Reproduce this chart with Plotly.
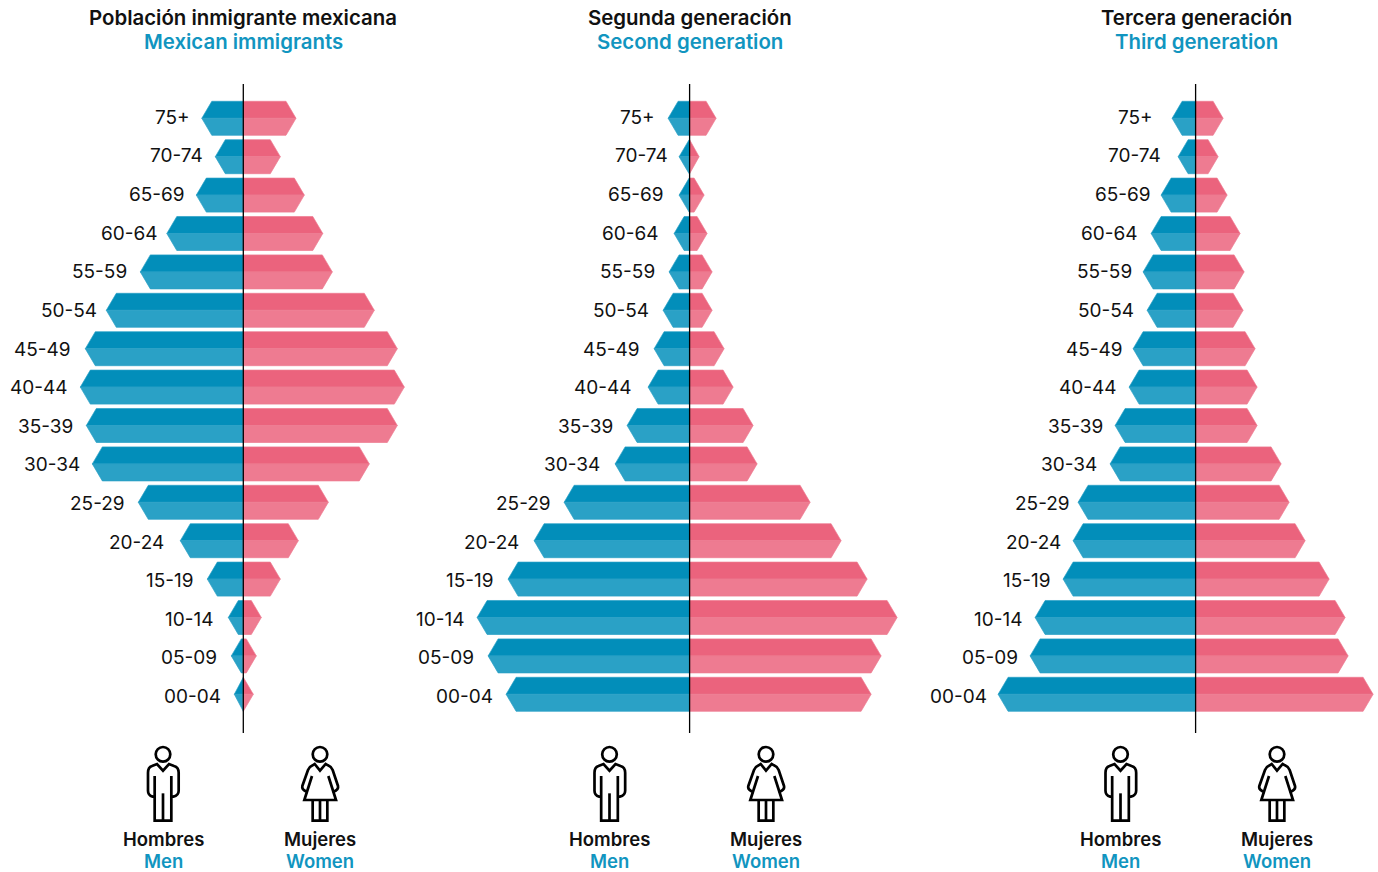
import plotly.graph_objects as go

# Age groups, top to bottom
age_groups = ["75+", "70-74", "65-69", "60-64", "55-59", "50-54", "45-49", "40-44",
              "35-39", "30-34", "25-29", "20-24", "15-19", "10-14", "05-09", "00-04"]

# Values (relative units, same scale in each panel)
immigrants_men = [41.5, 28, 47, 76.5, 103, 137, 158, 163, 157, 151, 105, 63, 36, 15, 12, 9]
immigrants_women = [52.7, 37, 61, 79.5, 89, 131, 154, 161, 154, 126, 85, 55, 37, 18, 13, 10]
second_men = [21.5, 10.5, 10.5, 15.5, 20.5, 26.5, 35.5, 41.5, 62.5, 74.5, 125.5, 155.5, 181.5, 212.5, 201.5, 183.5]
second_women = [26.5, 9.5, 14.5, 17.5, 22.5, 22.5, 34.5, 43.5, 63.5, 67.5, 120.5, 151.5, 177.5, 207.5, 191.5, 181.5]
third_men = [23.5, 17.5, 34.5, 44.5, 52.5, 48.5, 62.5, 66.5, 80.5, 85.5, 117.5, 122.5, 132.5, 160.5, 165.5, 197.5]
third_women = [27.5, 22.5, 31.5, 44.5, 48.5, 47.5, 59.5, 61.5, 61.5, 85.5, 93.5, 109.5, 133.5, 149.5, 152.5, 177.5]

titles_es = ["Población inmigrante mexicana", "Segunda generación", "Tercera generación"]
titles_en = ["Mexican immigrants", "Second generation", "Third generation"]
men_es, men_en, women_es, women_en = "Hombres", "Men", "Mujeres", "Women"

W, H = 1378, 872
FONT = "Inter"
BLUE_D, BLUE_L = "#028EBA", "#2AA1C6"
PINK_D, PINK_L = "#EB637D", "#EE7B91"
TEXT_BLUE = "#1195C0"
HALF = 0.443      # half bar height, in rows
TIP = 10          # length of the pointed end, in value units

# Hand placement of the age labels relative to the default gap from the bar tip (pixels)
label_nudge_1 = [1, 1, 2, 4, 0, 4, -1, 1, 0, 1, 0, -3, 0, -2, -1, 0]
label_nudge_2 = [0, 2, -2, -2, -1, -1, -1, -3, -1, -2, 0, -2, -1, 0, -1, 0]
label_nudge_3 = [-6, -4, 3, 0, 2, 0, 3, 1, 1, 0, 5, 1, 1, 0, 1, 2]

panels = [
    dict(men=immigrants_men, women=immigrants_women, nudge=label_nudge_1, c=243.3, win=(0, 440),
         title_x=243, man=163, woman=320),
    dict(men=second_men, women=second_women, nudge=label_nudge_2, c=689.6, win=(445, 925),
         title_x=689.5, man=609.5, woman=766),
    dict(men=third_men, women=third_women, nudge=label_nudge_3, c=1195.6, win=(930, 1378),
         title_x=1196.5, man=1120.5, woman=1277),
]
TOP_PX, BOT_PX, ROW0_PX, ROW_PX = 84, 733, 118.3, 38.4
y_range = [(BOT_PX - ROW0_PX) / ROW_PX, (TOP_PX - ROW0_PX) / ROW_PX]


def half_polys(values, sign, upper):
    xs, ys = [], []
    for i, v in enumerate(values):
        edge = i - HALF if upper else i + HALF
        xs += [0, sign * max(v - TIP, 0), sign * v, 0, 0, None]
        ys += [edge, edge, i, i, edge, None]
    return xs, ys


fig = go.Figure()
layout = dict(
    width=W, height=H, margin=dict(l=0, r=0, t=0, b=0), showlegend=False,
    paper_bgcolor="white", plot_bgcolor="rgba(0,0,0,0)",
    xaxis4=dict(domain=[0, 1], range=[0, W], visible=False, anchor="y4"),
    yaxis4=dict(domain=[0, 1], range=[H, 0], visible=False, anchor="x4"),
)
annotations, shapes = [], []


def text(x, y, s, color, size, weight, xref="x4", yref="y4", anchor="center", **kw):
    annotations.append(dict(x=x, y=y, xref=xref, yref=yref, text=s, showarrow=False,
                            xanchor=anchor, yanchor="middle",
                            font=dict(family=FONT, size=size, color=color, weight=weight), **kw))


def stroke(path):
    shapes.append(dict(type="path", path=path, xref="x4", yref="y4",
                       line=dict(color="black", width=2.7), layer="above"))


def to_path(cx, cmds, head_x):
    out = []
    for c in cmds:
        letter, pts = c[0], c[1:]
        coords = " ".join(f"{cx + (X - head_x) / 3:.2f},{740 + Y / 3:.2f}" for X, Y in pts)
        out.append(f"{letter} {coords}")
    return " ".join(out)


def head(cx):
    shapes.append(dict(type="circle", xref="x4", yref="y4", x0=cx - 7.3, x1=cx + 7.3,
                       y0=747, y1=761.6, line=dict(color="black", width=2.7), layer="above"))


def man_icon(cx):
    head(cx)
    hx = 83
    stroke(to_path(cx, [("M", (58, 108)), ("L", (58, 242)), ("L", (108, 242)), ("L", (108, 108))], hx))
    stroke(to_path(cx, [("M", (83, 160)), ("L", (83, 242))], hx))
    stroke(to_path(cx, [("M", (58, 170)), ("L", (52, 170)), ("Q", (38, 166), (38, 152)), ("L", (38, 98)),
                        ("Q", (38, 82), (50, 78)), ("L", (65, 72)), ("L", (83, 92)), ("L", (101, 72)),
                        ("L", (116, 78)), ("Q", (130, 82), (130, 98)), ("L", (130, 152)),
                        ("Q", (130, 166), (114, 170)), ("L", (108, 170))], hx))


def woman_icon(cx):
    head(cx)
    hx = 92
    stroke(to_path(cx, [("M", (68, 108)), ("L", (45, 180)), ("L", (140, 180)), ("L", (117, 108))], hx))
    stroke(to_path(cx, [("M", (70, 180)), ("L", (70, 242)), ("L", (114, 242)), ("L", (114, 180))], hx))
    stroke(to_path(cx, [("M", (92, 180)), ("L", (92, 242))], hx))
    stroke(to_path(cx, [("M", (55, 156)), ("Q", (36, 150), (39, 138)), ("L", (56, 90)), ("Q", (60, 80), (70, 76)),
                        ("L", (76, 72)), ("L", (92, 92)), ("L", (109, 72)), ("L", (116, 76)),
                        ("Q", (126, 80), (130, 90)), ("L", (146, 138)), ("Q", (149, 150), (130, 156))], hx))


for n, p in enumerate(panels, start=1):
    suffix = "" if n == 1 else str(n)
    x0, x1 = p["win"]
    layout[f"xaxis{suffix}"] = dict(domain=[x0 / W, x1 / W], range=[x0 - p["c"], x1 - p["c"]],
                                    visible=False, anchor=f"y{suffix}")
    layout[f"yaxis{suffix}"] = dict(domain=[1 - BOT_PX / H, 1 - TOP_PX / H], range=y_range,
                                    visible=False, anchor=f"x{suffix}")
    for values, sign, dark, light in ((p["men"], -1, BLUE_D, BLUE_L), (p["women"], 1, PINK_D, PINK_L)):
        for upper, color in ((True, dark), (False, light)):
            xs, ys = half_polys(values, sign, upper)
            fig.add_trace(go.Scatter(x=xs, y=ys, mode="lines", fill="toself", fillcolor=color,
                                     line=dict(color=light, width=0.7), hoverinfo="skip",
                                     xaxis=f"x{suffix}", yaxis=f"y{suffix}"))
    shapes.append(dict(type="line", xref=f"x{suffix}", yref=f"y{suffix} domain", x0=0, x1=0, y0=0, y1=1,
                       line=dict(color="black", width=1.3), layer="above"))
    for i, (age, v, nudge) in enumerate(zip(age_groups, p["men"], p["nudge"])):
        text(-v, i, age, "#111111", 19, 400, xref=f"x{suffix}", yref=f"y{suffix}", anchor="right",
             xshift=-11 + nudge, yshift=1 - 3.3 * i / 15)
    text(p["title_x"], 17, titles_es[n - 1], "#111111", 20.4, 600)
    text(p["title_x"], 41, titles_en[n - 1], TEXT_BLUE, 20.4, 600)
    for cx, es, en, icon in ((p["man"], men_es, men_en, man_icon), (p["woman"], women_es, women_en, woman_icon)):
        icon(cx)
        text(cx, 838.5, es, "#111111", 18.5, 600)
        text(cx, 860.6, en, TEXT_BLUE, 18.5, 600)

# Invisible trace so the overlay axes exist
fig.add_trace(go.Scatter(x=[0, W], y=[0, H], mode="markers", marker=dict(opacity=0), hoverinfo="skip",
                         xaxis="x4", yaxis="y4"))
fig.update_layout(**layout, annotations=annotations, shapes=shapes)
fig.write_html("out.html", config=dict(displayModeBar=False),
               post_script="document.body.style.margin='0';document.body.style.overflow='hidden';")
